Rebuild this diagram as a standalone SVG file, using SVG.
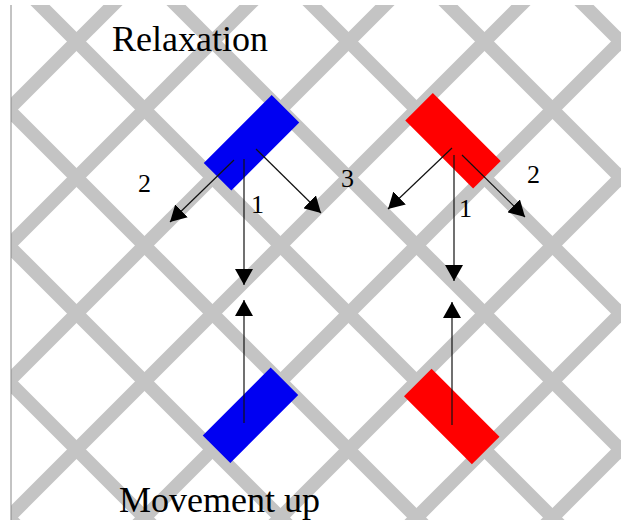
<svg xmlns="http://www.w3.org/2000/svg" width="621" height="523" viewBox="0 0 621 523">
  <style>
    .grid line { stroke: #c4c4c4; stroke-width: 13.5; }
    .conn line { stroke: #111; stroke-width: 1.2; }
    .lbl { font-family: "Liberation Serif", "Times New Roman", serif; fill: #000; }
    .num { font-size: 26px; }
    .title { font-size: 36px; }
  </style>
  <defs>
    <clipPath id="clip"><rect x="11" y="5" width="610" height="515"/></clipPath>
    <marker id="ah" viewBox="0 0 16 18" refX="16" refY="9" markerWidth="16" markerHeight="18" markerUnits="userSpaceOnUse" orient="auto">
      <path d="M0,0 L16,9 L0,18 z" fill="#000"/>
    </marker>
  </defs>
  <rect x="0" y="0" width="621" height="523" fill="#fff"/>
  <g id="lattice" class="grid" clip-path="url(#clip)">
    <line x1="-100" y1="-679" x2="1000" y2="421"/>
    <line x1="-100" y1="-543" x2="1000" y2="557"/>
    <line x1="-100" y1="-407" x2="1000" y2="693"/>
    <line x1="-100" y1="-271" x2="1000" y2="829"/>
    <line x1="-100" y1="-135" x2="1000" y2="965"/>
    <line x1="-100" y1="1" x2="1000" y2="1101"/>
    <line x1="-100" y1="137" x2="1000" y2="1237"/>
    <line x1="-100" y1="273" x2="1000" y2="1373"/>
    <line x1="-100" y1="409" x2="1000" y2="1509"/>
    <line x1="-100" y1="218" x2="1000" y2="-882"/>
    <line x1="-100" y1="354" x2="1000" y2="-746"/>
    <line x1="-100" y1="490" x2="1000" y2="-610"/>
    <line x1="-100" y1="626" x2="1000" y2="-474"/>
    <line x1="-100" y1="762" x2="1000" y2="-338"/>
    <line x1="-100" y1="898" x2="1000" y2="-202"/>
    <line x1="-100" y1="1034" x2="1000" y2="-66"/>
    <line x1="-100" y1="1170" x2="1000" y2="70"/>
  </g>
  <line x1="11" y1="5" x2="11" y2="520" stroke="#888" stroke-width="1"/>

  <g id="blue-top"><rect x="-48" y="-19.5" width="96" height="39" fill="#0000f2" transform="translate(251.5,142.75) rotate(-45)"/></g>
  <g id="red-top"><rect x="-48" y="-19.5" width="96" height="39" fill="#ff0000" transform="translate(453,140.75) rotate(45)"/></g>
  <g id="blue-bottom"><rect x="-48" y="-19.5" width="96" height="39" fill="#0000f2" transform="translate(250.5,415.25) rotate(-45)"/></g>
  <g id="red-bottom"><rect x="-48" y="-19.5" width="96" height="39" fill="#ff0000" transform="translate(451.75,416.5) rotate(45)"/></g>

  <g id="connectors" class="conn">
    <line x1="244" y1="159" x2="244" y2="285" marker-end="url(#ah)"/>
    <line x1="234" y1="160" x2="170" y2="222" marker-end="url(#ah)"/>
    <line x1="256" y1="149" x2="321" y2="213" marker-end="url(#ah)"/>
    <line x1="244" y1="423" x2="244" y2="300" marker-end="url(#ah)"/>
    <line x1="454" y1="155" x2="454" y2="281" marker-end="url(#ah)"/>
    <line x1="452" y1="148" x2="388" y2="209" marker-end="url(#ah)"/>
    <line x1="462" y1="155" x2="525" y2="217" marker-end="url(#ah)"/>
    <line x1="452" y1="425" x2="452" y2="302" marker-end="url(#ah)"/>
  </g>

  <g id="labels" class="lbl">
    <text class="title" x="112" y="51">Relaxation</text>
    <text class="title" x="119" y="512">Movement up</text>
    <text class="num" x="138" y="192">2</text>
    <text class="num" x="251" y="213">1</text>
    <text class="num" x="341" y="187">3</text>
    <text class="num" x="459" y="217">1</text>
    <text class="num" x="527" y="183">2</text>
  </g>
</svg>
